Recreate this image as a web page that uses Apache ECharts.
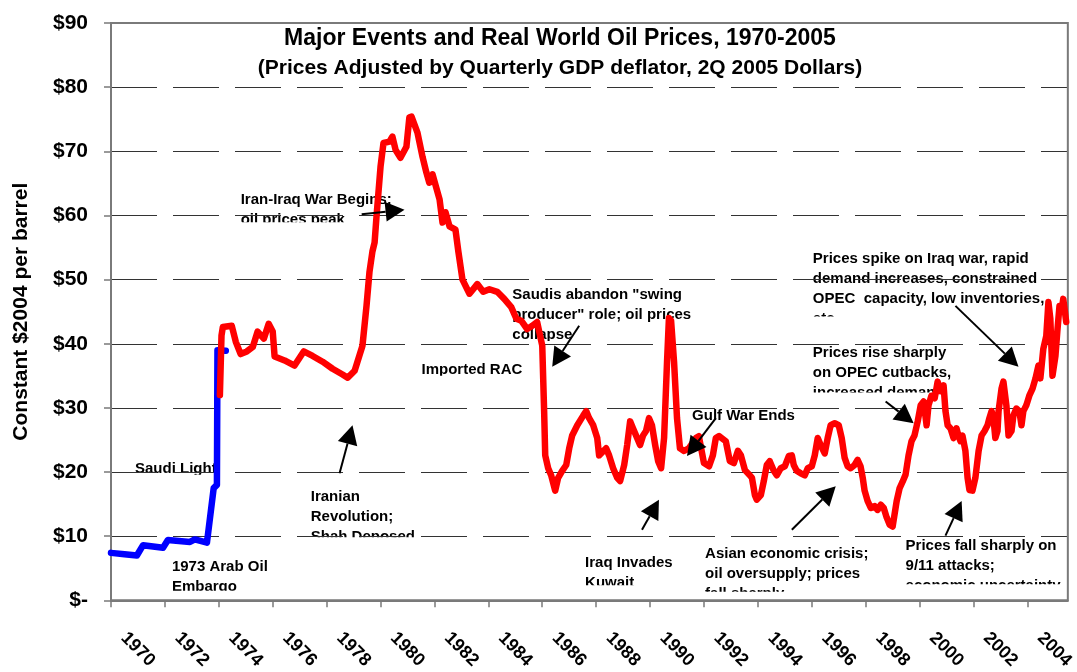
<!DOCTYPE html>
<html>
<head>
<meta charset="utf-8">
<script src="https://cdn.jsdelivr.net/npm/echarts@6/dist/echarts.min.js"></script>
<style>
html,body{margin:0;padding:0;background:#ffffff;}
#chart{width:1077px;height:672px;}
</style>
</head>
<body>
<div id="chart"></div>
<script>
const FONT = '"Liberation Sans", Arial, Helvetica, sans-serif';

// ---- Axis tick labels ----
const yearTickLabels = ['1970','1972','1974','1976','1978','1980','1982','1984','1986','1988',
  '1990','1992','1994','1996','1998','2000','2002','2004'];
const priceTickLabels = ['$-','$10','$20','$30','$40','$50','$60','$70','$80','$90'];

// ---- Saudi Light (blue) ----
const blueYears  = [1970.00, 1970.50, 1970.96, 1971.19, 1971.93, 1972.11, 1972.93, 1973.11, 1973.56, 1973.63, 1973.81, 1973.93, 1973.95, 1974.26];
const bluePrices = [7.4, 7.2, 7.0, 8.6, 8.2, 9.4, 9.1, 9.5, 9.0, 8.8, 17.5, 18.0, 39.0, 38.9];

// ---- Imported RAC (red) ----
const redYears = [
  1974.04,1974.10,1974.15,1974.48,1974.63,1974.81,1975.04,1975.26,1975.44,1975.67,1975.85,1976.00,1976.07,1976.44,1976.81,
  1977.15,1977.48,1977.85,1978.22,1978.59,1978.78,1979.04,1979.33,1979.48,1979.59,1979.70,1979.78,1979.85,1980.00,1980.11,
  1980.33,1980.44,1980.56,1980.74,1980.96,1981.07,1981.15,1981.37,1981.56,1981.70,1981.81,1981.93,1982.07,1982.19,1982.30,
  1982.41,1982.56,1982.78,1982.89,1983.04,1983.30,1983.59,1983.81,1984.04,1984.33,1984.59,1984.85,1985.04,1985.22,1985.44,
  1985.63,1985.81,1986.00,1986.07,1986.11,1986.22,1986.33,1986.48,1986.59,1986.74,1986.89,1987.00,1987.11,1987.30,1987.52,
  1987.63,1987.74,1987.89,1988.04,1988.11,1988.37,1988.48,1988.63,1988.78,1988.89,1989.04,1989.15,1989.26,1989.37,1989.52,
  1989.63,1989.74,1989.85,1989.96,1990.07,1990.19,1990.30,1990.41,1990.52,1990.63,1990.70,1990.78,1990.89,1991.00,1991.11,
  1991.26,1991.44,1991.70,1991.81,1992.00,1992.19,1992.33,1992.44,1992.56,1992.81,1992.96,1993.11,1993.26,1993.37,1993.52,
  1993.70,1993.78,1993.89,1993.96,1994.11,1994.22,1994.33,1994.44,1994.59,1994.70,1994.85,1995.00,1995.15,1995.26,1995.33,
  1995.44,1995.59,1995.74,1995.85,1996.00,1996.11,1996.22,1996.33,1996.48,1996.59,1996.70,1996.85,1997.00,1997.11,1997.22,
  1997.33,1997.44,1997.59,1997.70,1997.81,1997.89,1997.96,1998.07,1998.19,1998.33,1998.44,1998.56,1998.67,1998.78,1998.89,
  1999.00,1999.15,1999.26,1999.37,1999.48,1999.59,1999.70,1999.81,1999.93,2000.04,2000.15,2000.26,2000.33,2000.44,2000.56,
  2000.67,2000.78,2000.89,2000.96,2001.04,2001.15,2001.26,2001.37,2001.44,2001.52,2001.59,2001.70,2001.78,2001.85,2001.96,
  2002.07,2002.19,2002.30,2002.41,2002.52,2002.59,2002.67,2002.74,2002.81,2002.89,2002.93,2003.04,2003.11,2003.22,2003.30,
  2003.41,2003.48,2003.59,2003.70,2003.78,2003.85,2003.96,2004.07,2004.19,2004.30,2004.41,2004.48,2004.59,2004.70,2004.78,
  2004.85,2004.93,2005.04,2005.11,2005.19,2005.26,2005.33,2005.44
];
const redPrices = [
  32.0,41.3,42.6,42.8,40.3,38.4,38.8,39.5,41.9,40.8,43.1,41.9,38.0,37.4,36.6,
  38.8,38.1,37.2,36.1,35.2,34.7,35.8,39.7,45.9,51.2,54.4,55.8,59.8,67.6,71.3,
  71.5,72.3,70.2,69.0,70.7,75.3,75.4,72.9,69.1,66.7,65.1,66.4,64.3,62.5,58.9,
  60.5,58.3,57.8,54.3,50.0,47.8,49.3,48.1,48.5,48.1,47.0,45.7,43.9,43.6,42.3,
  42.8,43.4,39.7,29.5,22.6,20.6,19.5,17.1,19.1,20.2,21.1,23.7,25.7,27.3,28.8,
  29.5,28.4,27.3,25.3,22.6,23.7,22.6,20.6,19.1,18.6,21.1,24.2,27.9,26.8,25.3,
  24.2,25.7,26.4,28.4,27.3,24.2,21.7,20.6,25.3,37.2,44.0,43.6,37.2,28.4,23.7,
  23.3,23.7,25.3,25.6,21.4,20.9,22.6,25.3,25.6,24.8,21.7,21.4,23.3,22.6,20.3,
  19.5,19.1,16.4,15.7,16.4,18.6,21.1,21.7,20.2,19.5,20.6,20.9,22.5,22.6,21.1,
  20.2,19.8,19.5,20.6,20.9,22.6,25.3,24.2,22.9,25.3,27.3,27.6,27.3,25.3,22.2,
  20.9,20.6,21.1,21.9,20.9,19.1,17.1,15.5,14.4,14.7,14.1,14.9,14.4,12.9,11.8,
  11.5,15.5,17.5,18.5,19.6,22.6,24.8,25.7,27.9,30.4,31.0,27.3,30.4,31.9,31.5,
  34.1,32.6,33.5,29.5,27.3,26.8,25.3,26.8,25.7,24.8,25.7,23.3,19.1,17.2,17.1,
  19.1,23.3,25.7,26.4,27.3,28.4,29.5,28.4,25.3,26.4,29.5,33.0,34.1,30.4,25.7,
  26.4,28.8,29.9,29.5,27.3,29.5,30.4,31.9,33.0,34.6,36.6,34.6,39.2,41.2,46.5,
  43.9,35.0,38.1,41.9,45.9,45.0,47.0,43.4
];

// ---- Annotations (anchor = top-left of text block, in [year, $]) ----
const noteTexts = [
  ['Iran-Iraq War Begins;', 'oil prices peak'],
  ['Saudis abandon "swing', 'producer" role; oil prices', 'collapse'],
  ['Imported RAC'],
  ['Saudi Light'],
  ['1973 Arab Oil', 'Embargo'],
  ['Iranian', 'Revolution;', 'Shah Deposed'],
  ['Gulf War Ends'],
  ['Iraq Invades', 'Kuwait'],
  ['Asian economic crisis;', 'oil oversupply; prices', 'fall sharply'],
  ['Prices fall sharply on', '9/11 attacks;', 'economic uncertainty'],
  ['Prices rise sharply', 'on OPEC cutbacks,', 'increased demand'],
  ['Prices spike on Iraq war, rapid', 'demand increases, constrained', 'OPEC  capacity, low inventories,', 'etc.']
];
const noteAnchors = [
  [1974.81, 64.0], [1984.89, 49.25], [1981.52, 37.42], [1970.89, 22.12], [1972.26, 6.77], [1977.41, 17.77],
  [1991.56, 30.29], [1987.59, 7.43], [1992.04, 8.83], [1999.48, 9.98], [1996.04, 40.1], [1996.04, 54.83]
];
// visible height (px) of each text box (the boxes clip their text); null = fully shown
const noteVisible = [32.5, 56.5, 15.5, 16.2, 33.8, 50.8, null, 32.5, 48.1, 47.9, 49.5, 67.8];

// ---- Arrows: [tail, tip] in [year, $] ----
const arrowTails = [[1979.30, 60.2],[1978.48, 19.8],[1987.37, 42.8],[1992.44, 28.4],[1989.70, 11.0],[1995.26, 11.0],[2000.96, 10.1],[1998.74, 31.0],[2001.33, 45.9]];
const arrowTips  = [[1980.89, 60.9],[1978.96, 27.3],[1986.37, 36.4],[1991.37, 22.5],[1990.33, 15.7],[1996.89, 17.8],[2001.56, 15.5],[1999.78, 27.6],[2003.67, 36.4]];

const chart = echarts.init(document.getElementById('chart'), null, {renderer: 'canvas'});

const tickVals = yearTickLabels.map(Number);
const labelVals = tickVals.map(v => v + 1);
const AXIS_COLOR = '#7a7a7a';

const option = {
  backgroundColor: '#ffffff',
  animation: false,
  title: {
    text: 'Major Events and Real World Oil Prices, 1970-2005',
    subtext: '(Prices Adjusted by Quarterly GDP deflator, 2Q 2005 Dollars)',
    left: 560, top: 25, textAlign: 'center', padding: 0, itemGap: 4,
    textStyle: {fontFamily: FONT, fontWeight: 'bold', fontSize: 23, color: '#000', lineHeight: 27},
    subtextStyle: {fontFamily: FONT, fontWeight: 'bold', fontSize: 21, color: '#000', lineHeight: 24}
  },
  grid: {
    left: 111, right: 8, top: 23, bottom: 69, containLabel: false,
    show: true, borderColor: AXIS_COLOR, borderWidth: 2, z: 1.5
  },
  xAxis: {
    type: 'value', min: 1970, max: 2005.5, z: 1.2,
    axisLine: {show: true, onZero: false, lineStyle: {color: AXIS_COLOR, width: 2}},
    axisTick: {show: true, length: 7, customValues: tickVals, lineStyle: {color: AXIS_COLOR, width: 1.5}},
    axisLabel: {
      customValues: labelVals,
      formatter: v => yearTickLabels[labelVals.indexOf(Math.round(v))] || '',
      rotate: -45, align: 'center', verticalAlign: 'middle', margin: 49,
      fontFamily: FONT, fontWeight: 'bold', fontSize: 18, color: '#000'
    },
    splitLine: {show: false}
  },
  yAxis: {
    type: 'value', min: 0, max: 90, interval: 10, z: 1,
    name: 'Constant $2004 per barrel', nameLocation: 'middle', nameRotate: 90, nameGap: 79,
    nameTextStyle: {fontFamily: FONT, fontWeight: 'bold', fontSize: 21, color: '#000'},
    axisLine: {show: true, lineStyle: {color: AXIS_COLOR, width: 2}},
    axisTick: {show: true, length: 7, lineStyle: {color: AXIS_COLOR, width: 1.5}},
    axisLabel: {
      formatter: v => priceTickLabels[Math.round(v / 10)],
      margin: 23, fontFamily: FONT, fontWeight: 'bold', fontSize: 21, color: '#000'
    },
    splitLine: {show: true, lineStyle: {color: '#333333', width: 1, type: [46, 16]}}
  },
  series: [
    {
      name: 'Saudi Light', type: 'line', z: 2, showSymbol: false, symbol: 'none',
      data: blueYears.map((y, i) => [y, bluePrices[i]]),
      lineStyle: {color: '#0000ff', width: 6.5, cap: 'round', join: 'round'}
    },
    {
      name: 'Imported RAC', type: 'line', z: 2, showSymbol: false, symbol: 'none',
      data: redYears.map((y, i) => [y, redPrices[i]]),
      lineStyle: {color: '#ff0000', width: 6.5, cap: 'round', join: 'round'}
    }
  ]
};
chart.setOption(option);

// ---- Build annotation graphics from data coordinates ----
const NOTE_FONT_SIZE = 15, NOTE_LH = 20;
const measure = document.createElement('canvas').getContext('2d');
measure.font = 'bold ' + NOTE_FONT_SIZE + 'px ' + FONT;

const graphics = [];
noteTexts.forEach((lines, i) => {
  const p = chart.convertToPixel({gridIndex: 0}, noteAnchors[i]);
  graphics.push({
    type: 'text', z: 0.5, silent: true,
    x: p[0], y: p[1],
    style: {
      text: lines.join('\n'), fill: '#000',
      font: 'bold ' + NOTE_FONT_SIZE + 'px ' + FONT,
      lineHeight: NOTE_LH, align: 'left', verticalAlign: 'top'
    }
  });
  if (noteVisible[i] != null) {
    const w = Math.max.apply(null, lines.map(l => measure.measureText(l).width));
    const fullH = lines.length * NOTE_LH + 4;
    graphics.push({
      type: 'rect', z: 0.6, silent: true,
      shape: {x: p[0] - 3, y: p[1] + noteVisible[i], width: w + 8, height: fullH - noteVisible[i]},
      style: {fill: '#ffffff'}
    });
  }
});

const HEAD_LEN = 19, HEAD_HALF = 10;
arrowTails.forEach((t, i) => {
  const a = chart.convertToPixel({gridIndex: 0}, t);
  const b = chart.convertToPixel({gridIndex: 0}, arrowTips[i]);
  const dx = b[0] - a[0], dy = b[1] - a[1];
  const len = Math.sqrt(dx * dx + dy * dy);
  const ux = dx / len, uy = dy / len;
  const bx = b[0] - ux * HEAD_LEN, by = b[1] - uy * HEAD_LEN;
  graphics.push({
    type: 'line', z: 3, silent: true,
    shape: {x1: a[0], y1: a[1], x2: bx, y2: by},
    style: {stroke: '#000', lineWidth: 2}
  });
  graphics.push({
    type: 'polygon', z: 3, silent: true,
    shape: {points: [[b[0], b[1]], [bx - uy * HEAD_HALF, by + ux * HEAD_HALF], [bx + uy * HEAD_HALF, by - ux * HEAD_HALF]]},
    style: {fill: '#000'}
  });
});

chart.setOption({graphic: graphics});
</script>
</body>
</html>
